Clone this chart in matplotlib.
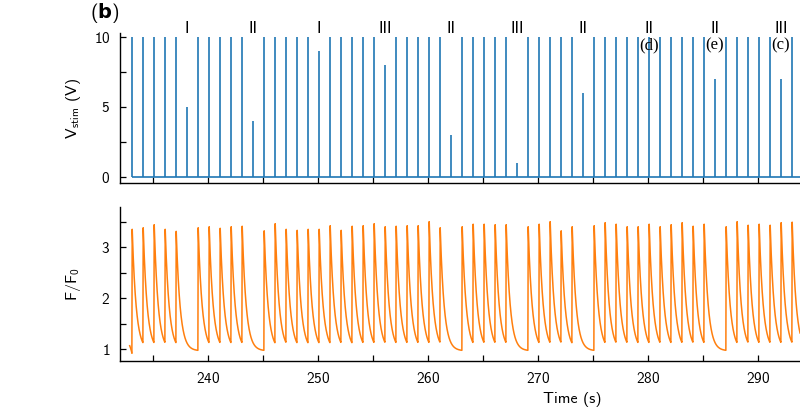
import numpy as np
import matplotlib.pyplot as plt
from matplotlib.ticker import MultipleLocator

plt.rcParams['font.family'] = ['cmss10', 'DejaVu Sans']
plt.rcParams['mathtext.fontset'] = 'custom'
plt.rcParams['mathtext.rm'] = 'cmss10'
plt.rcParams['mathtext.it'] = 'cmss10'
plt.rcParams['mathtext.bf'] = 'DejaVu Sans:bold'
plt.rcParams['axes.formatter.use_mathtext'] = True

# stimulus amplitude (V), one pulse per second from t = 233 s
stim_amp = [10, 10, 10, 10, 10, 5,
            10, 10, 10, 10, 10, 4,
            10, 10, 10, 10, 10, 9,
            10, 10, 10, 10, 10, 8,
            10, 10, 10, 10, 10, 3,
            10, 10, 10, 10, 10, 1,
            10, 10, 10, 10, 10, 6,
            10, 10, 10, 10, 10, 10,
            10, 10, 10, 10, 10, 7,
            10, 10, 10, 10, 10, 7,
            10]
stim_t0 = 233.08
stim_times = stim_t0 + np.arange(len(stim_amp))

# protocol labels above the modified pulses
mark_idx = [5, 11, 17, 23, 29, 35, 41, 47, 53, 59]
mark_text = ['I', 'II', 'I', 'III', 'II', 'III', 'II', 'II', 'II', 'III']
panel_idx = [47, 53, 59]
panel_text = ['(d)', '(e)', '(c)']

# peak F/F0 of each transient (0 = no response to that pulse)
f_peak = [3.35, 3.38, 3.44, 3.35, 3.31, 0,
          3.38, 3.40, 3.37, 3.40, 3.41, 0,
          3.32, 3.46, 3.35, 3.33, 3.35, 3.35,
          3.42, 3.33, 3.41, 3.42, 3.46, 3.40,
          3.41, 3.42, 3.42, 3.50, 3.38, 0,
          3.40, 3.45, 3.45, 3.44, 3.44, 0,
          3.40, 3.45, 3.50, 3.32, 3.40, 0,
          3.42, 3.48, 3.45, 3.40, 3.40, 3.45,
          3.40, 3.44, 3.48, 3.41, 3.45, 0,
          3.40, 3.50, 3.43, 3.45, 3.43, 3.48,
          3.49]
# short piece of trace recorded before the first pulse
pre_t = [232.88, 232.95, 233.02, 233.08]
pre_f = [1.07, 1.03, 0.98, 0.93]
f_base = 0.97   # resting level reached after a missed beat
tau = 0.36      # decay time of a transient (s)
rise = 0.03     # rise time (s)

# fluorescence trace: fast rise to each peak, exponential decay after it
beats = [(tb, p) for tb, p in zip(stim_times, f_peak) if p > 0]
t = np.arange(stim_t0, 294.5, 0.002)
f = np.empty_like(t)
val = pre_f[-1]
start_v = val
cur_t, cur_p = None, None
bi = 0
for i, ti in enumerate(t):
    while bi < len(beats) and ti >= beats[bi][0]:
        start_v = val
        cur_t, cur_p = beats[bi]
        bi += 1
    if cur_t is None:
        val = pre_f[-1]
    elif ti - cur_t < rise:
        val = start_v + (cur_p - start_v) * (ti - cur_t) / rise
    else:
        val = f_base + (cur_p - f_base) * np.exp(-(ti - cur_t - rise) / tau)
    f[i] = val

blue = '#1f77b4'
orange = '#ff7f0e'

fig = plt.figure(figsize=(8, 4.2), dpi=100)
ax1 = fig.add_axes([0.15, 0.5643, 0.85, 0.357])
ax2 = fig.add_axes([0.15, 0.1405, 0.85, 0.367], sharex=ax1)

# top: stimulation pulses
ax1.vlines(stim_times, 0, stim_amp, color=blue, lw=1.2)
ax1.hlines(0, stim_times[0], 300, color=blue, lw=1.2)
for k, txt in zip(mark_idx, mark_text):
    ax1.text(stim_times[k], 10.62, txt, ha='center', va='center',
             fontsize=12, clip_on=False)
for k, txt in zip(panel_idx, panel_text):
    ax1.text(stim_times[k], 9.4, txt, ha='center', va='center',
             fontsize=12, family='Liberation Serif')
ax1.set_ylim(-0.43, 10.26)
ax1.set_yticks([0, 5, 10])
ax1.yaxis.set_minor_locator(MultipleLocator(2.5))
ax1.set_ylabel(r'V$_\mathrm{stim}$ (V)', fontsize=11.5)
plt.setp(ax1.get_xticklabels(), visible=False)

# bottom: calcium transients
ax2.plot(pre_t, pre_f, color=orange, lw=1.1)
ax2.plot(t, f, color=orange, lw=1.1)
ax2.set_ylim(0.771, 3.79)
ax2.set_yticks([1, 2, 3])
ax2.yaxis.set_minor_locator(MultipleLocator(0.5))
ax2.set_ylabel(r'F/F$_0$', fontsize=11.5)
ax2.set_xlabel('Time (s)', fontsize=11.5)
ax2.xaxis.set_label_coords(0.665, -0.2)

ax2.set_xlim(232, 293.82)
ax2.set_xticks([240, 250, 260, 270, 280, 290])
ax2.xaxis.set_minor_locator(MultipleLocator(5))

for ax in (ax1, ax2):
    ax.spines['top'].set_visible(False)
    ax.spines['right'].set_visible(False)
    ax.spines['left'].set_linewidth(1.0)
    ax.spines['bottom'].set_linewidth(1.0)
    ax.tick_params(which='both', direction='in', length=4, width=0.9,
                   labelsize=11, pad=7)
    ax.yaxis.set_label_coords(-0.054, 0.5)

fig.text(105 / 800, 1 - 13 / 420, r'($\mathbf{b}$)', fontsize=14,
         ha='center', va='center')

fig.savefig('out.png', dpi=100)
